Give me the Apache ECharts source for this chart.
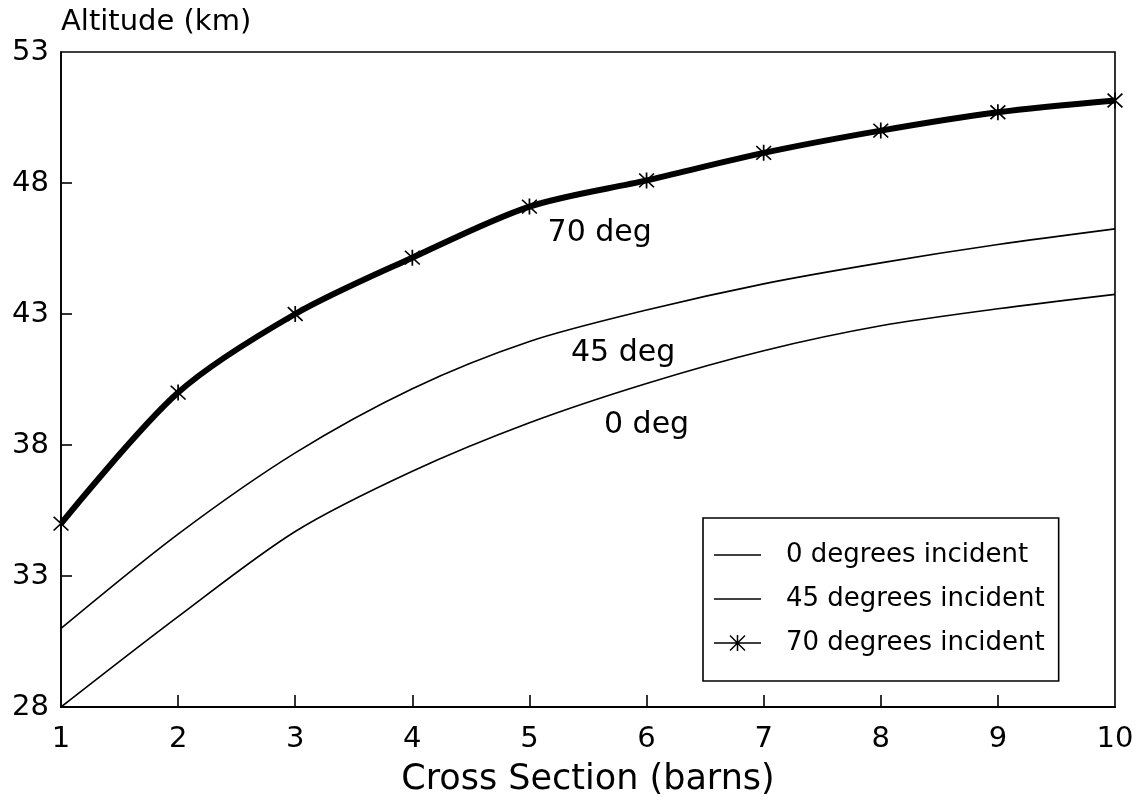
<!DOCTYPE html>
<html>
<head>
<meta charset="utf-8">
<script src="https://cdn.jsdelivr.net/npm/echarts@6/dist/echarts.min.js"></script>
<style>
  html, body { margin: 0; padding: 0; background: #fff; }
  #chart { width: 1139px; height: 801px; }
</style>
</head>
<body>
<div id="chart"></div>
<script>
// Cross section (barns) on the x axis
const crossSection = [1, 2, 3, 4, 5, 6, 7, 8, 9, 10];

// Altitude (km) for each angle of incidence
const alt0deg  = [28.0, 31.45, 34.7, 37.0, 38.85, 40.35, 41.6, 42.55, 43.2, 43.75];
const alt45deg = [31.0, 34.6, 37.7, 40.15, 41.95, 43.15, 44.15, 44.95, 45.65, 46.25];
const alt70deg = [35.0, 40.0, 43.0, 45.15, 47.1, 48.1, 49.15, 50.0, 50.7, 51.15];

// Tick values
const xTicks = [1, 2, 3, 4, 5, 6, 7, 8, 9, 10];
const yTicks = [28, 33, 38, 43, 48, 53];

// Series names and inline curve labels
const seriesNames = ['0 degrees incident', '45 degrees incident', '70 degrees incident'];
const curveLabels = ['0 deg', '45 deg', '70 deg'];
const curveLabelAt = [[6.0, 38.75], [5.8, 41.5], [5.6, 46.1]];

const FONT = 'DejaVu Sans';
const INK = '#000';

// asterisk marker: vertical stroke plus an X
const asterisk = 'path://M9,0H11V20H9Z M0.7,2.1L2.1,0.7L19.3,17.9L17.9,19.3Z M17.9,0.7L19.3,2.1L2.1,19.3L0.7,17.9Z';
// legend keys: plain rule, and rule crossed by the asterisk
const keyRule = 'path://M0,10.25H47V11.75H0Z';
const keyStar = 'path://M0,10.25H47V11.75H0Z M22.75,3H24.25V19H22.75Z M15.5,4L16.5,3L31.5,18L30.5,19Z M30.5,3L31.5,4L16.5,19L15.5,18Z';
const legendKeys = [keyRule, keyRule, keyStar];

function pairs(ys) {
  return crossSection.map((x, i) => [x, ys[i]]);
}

function curveLabel(i) {
  return {
    symbol: 'circle',
    symbolSize: 0,
    silent: true,
    label: {
      show: true,
      position: 'inside',
      formatter: '{b}',
      color: INK,
      fontFamily: FONT,
      fontSize: 30
    },
    data: [{ name: curveLabels[i], coord: curveLabelAt[i] }]
  };
}

const chart = echarts.init(document.getElementById('chart'), null, { renderer: 'canvas' });

chart.setOption({
  animation: false,
  backgroundColor: '#fff',
  grid: {
    left: 61, right: 24, top: 52, bottom: 94,
    outerBoundsMode: 'none',
    containLabel: false,
    show: true,
    borderColor: INK,
    borderWidth: 1.6,
    backgroundColor: 'transparent'
  },
  xAxis: {
    type: 'value',
    min: 1, max: 10, interval: 1,
    name: 'Cross Section (barns)',
    nameLocation: 'middle',
    nameGap: 55,
    nameTextStyle: { color: INK, fontFamily: FONT, fontSize: 35 },
    axisLine: { show: true, lineStyle: { color: INK, width: 2 } },
    axisTick: {
      show: true, inside: true, length: 12,
      customValues: xTicks.slice(1, -1),
      lineStyle: { color: INK, width: 1.6 }
    },
    axisLabel: {
      customValues: xTicks,
      color: INK, fontFamily: FONT, fontSize: 29, margin: 18
    },
    splitLine: { show: false }
  },
  yAxis: {
    type: 'value',
    min: 28, max: 53,
    name: 'Altitude (km)',
    nameLocation: 'end',
    nameGap: 15,
    nameTextStyle: {
      color: INK, fontFamily: FONT, fontSize: 29,
      align: 'left', verticalAlign: 'bottom'
    },
    axisLine: { show: true, lineStyle: { color: INK, width: 1.6 } },
    axisTick: {
      show: true, inside: true, length: 11,
      customValues: yTicks.slice(1, -1),
      lineStyle: { color: INK, width: 1.6 }
    },
    axisLabel: {
      customValues: yTicks,
      color: INK, fontFamily: FONT, fontSize: 29, margin: 12
    },
    splitLine: { show: false }
  },
  legend: {
    orient: 'vertical',
    left: 703,
    top: 518,
    data: seriesNames.map((name, i) => ({ name: name, icon: legendKeys[i] })),
    backgroundColor: '#fff',
    borderColor: INK,
    borderWidth: 1.6,
    borderRadius: 0,
    padding: [24, 14, 25, 11],
    itemWidth: 47,
    itemHeight: 24,
    itemGap: 18,
    itemStyle: { color: INK, borderWidth: 0 },
    textStyle: {
      color: INK, fontFamily: FONT, fontSize: 26, lineHeight: 24,
      padding: [0, 0, 0, 20]
    }
  },
  series: [
    {
      name: seriesNames[0],
      type: 'line',
      data: pairs(alt0deg),
      smooth: 0.3,
      symbol: 'none',
      lineStyle: { color: INK, width: 1.6 },
      itemStyle: { color: INK },
      markPoint: curveLabel(0),
      z: 3
    },
    {
      name: seriesNames[1],
      type: 'line',
      data: pairs(alt45deg),
      smooth: 0.3,
      symbol: 'none',
      lineStyle: { color: INK, width: 1.6 },
      itemStyle: { color: INK },
      markPoint: curveLabel(1),
      z: 3
    },
    {
      name: seriesNames[2],
      type: 'line',
      data: pairs(alt70deg),
      smooth: 0.3,
      symbol: asterisk,
      symbolSize: 16,
      showSymbol: true,
      lineStyle: { color: INK, width: 6 },
      itemStyle: { color: INK },
      markPoint: curveLabel(2),
      z: 4
    }
  ]
});
</script>
</body>
</html>
